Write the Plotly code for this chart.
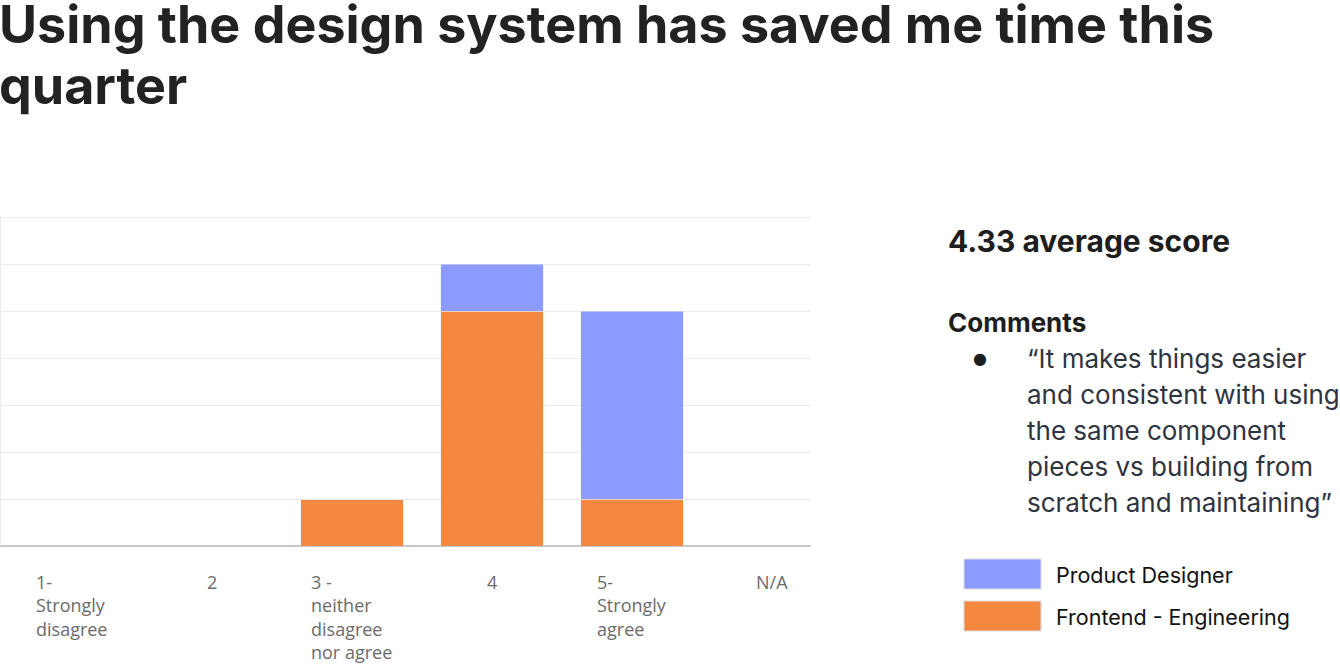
import plotly.graph_objects as go

# survey answers
categories = ["1", "2", "3", "4", "5", "N/A"]
cat_labels = ["1-<br>Strongly<br>disagree", "2", "3 -<br>neither<br>disagree<br>nor agree",
              "4", "5-<br>Strongly<br>agree", "N/A"]
frontend = [0, 0, 1, 5, 1, 0]
product = [0, 0, 0, 1, 4, 0]

series_names = ["Product Designer", "Frontend - Engineering"]
blue = "#8c9bff"
orange = "#f58841"

title_lines = ["Using the design system has saved me time this", "quarter"]
comment_lines = [
    "\u201cIt makes things easier",
    "and consistent with using",
    "the same component",
    "pieces vs building from",
    "scratch and maintaining\u201d",
]

# plot area in pixels (figure is 1340 x 667)
L, R, T, B = 0, 811, 216, 546


def px(x):
    return (x - L) / (R - L)


def py(y):
    return (B - y) / (B - T)


fig = go.Figure()
fig.add_trace(go.Bar(x=categories, y=frontend, name=series_names[1],
                     marker_color=orange, width=0.73, showlegend=False))
fig.add_trace(go.Bar(x=categories, y=product, name=series_names[0],
                     marker_color=blue, width=0.73, showlegend=False))

ann = []
# category labels, lines left aligned inside a centered block
for i, lab in enumerate(cat_labels):
    ann.append(dict(x=i, xref="x", y=py(568), yref="paper", text=lab,
                    showarrow=False, xanchor="center", yanchor="top", align="left",
                    font=dict(family="Open Sans", size=18, color="#6b6b6b")))

for i, line in enumerate(title_lines):
    ann.append(dict(x=0, y=py(25 + 61 * i), xref="paper", yref="paper", text="<b>" + line + "</b>",
                    showarrow=False, xanchor="left", yanchor="middle", xshift=-3,
                    font=dict(family="Inter", size=52, color="#222222")))

ann.append(dict(x=px(949), y=py(241), xref="paper", yref="paper", text="<b>4.33 average score</b>",
                showarrow=False, xanchor="left", yanchor="middle", xshift=-3,
                font=dict(family="Inter", size=30, color="#1e1e1e")))
ann.append(dict(x=px(949), y=py(322), xref="paper", yref="paper", text="<b>Comments</b>",
                showarrow=False, xanchor="left", yanchor="middle", xshift=-3,
                font=dict(family="Inter", size=26, color="#1e1e1e")))
ann.append(dict(x=px(980), y=py(358), xref="paper", yref="paper", text="\u25cf",
                showarrow=False, xanchor="center", yanchor="middle",
                font=dict(family="DejaVu Sans", size=16, color="#1e1e1e")))
for i, line in enumerate(comment_lines):
    ann.append(dict(x=px(1027), y=py(358 + 36 * i), xref="paper", yref="paper", text=line,
                    showarrow=False, xanchor="left", yanchor="middle", xshift=-2,
                    font=dict(family="Inter", size=26, color="#2e3440")))

shapes = []
for i, (name, col) in enumerate(zip(series_names, [blue, orange])):
    yc = 574 + 42 * i
    shapes.append(dict(type="rect", xref="paper", yref="paper",
                       x0=px(964), x1=px(1041), y0=py(yc - 15), y1=py(yc + 15),
                       fillcolor=col, line=dict(color="#dcdcdc", width=1)))
    ann.append(dict(x=px(1056), y=py(yc + 1), xref="paper", yref="paper", text=name,
                    showarrow=False, xanchor="left", yanchor="middle", xshift=-2,
                    font=dict(family="Inter", size=21.5, color="#111111")))

# faint left edge of the chart box
shapes.append(dict(type="line", xref="paper", yref="paper", x0=0, x1=0, y0=0, y1=1,
                   line=dict(color="#ebebeb", width=2)))

fig.update_layout(
    width=1340, height=667,
    margin=dict(l=L, r=1340 - R, t=T, b=667 - B),
    paper_bgcolor="white", plot_bgcolor="white",
    barmode="stack", bargap=0.27,
    annotations=ann,
    shapes=shapes,
)
fig.update_xaxes(type="category", range=[-0.514, 5.279], showticklabels=False,
                 showgrid=False, zeroline=False, showline=False)
fig.update_yaxes(range=[0, 7.03], dtick=1, showticklabels=False, showgrid=True,
                 gridcolor="#ebebeb", gridwidth=1, zeroline=True, zerolinecolor="#c8c8c8",
                 zerolinewidth=2, showline=False)

fig.write_html("out.html", config={"displayModeBar": False},
               post_script="document.body.style.margin='0';")
